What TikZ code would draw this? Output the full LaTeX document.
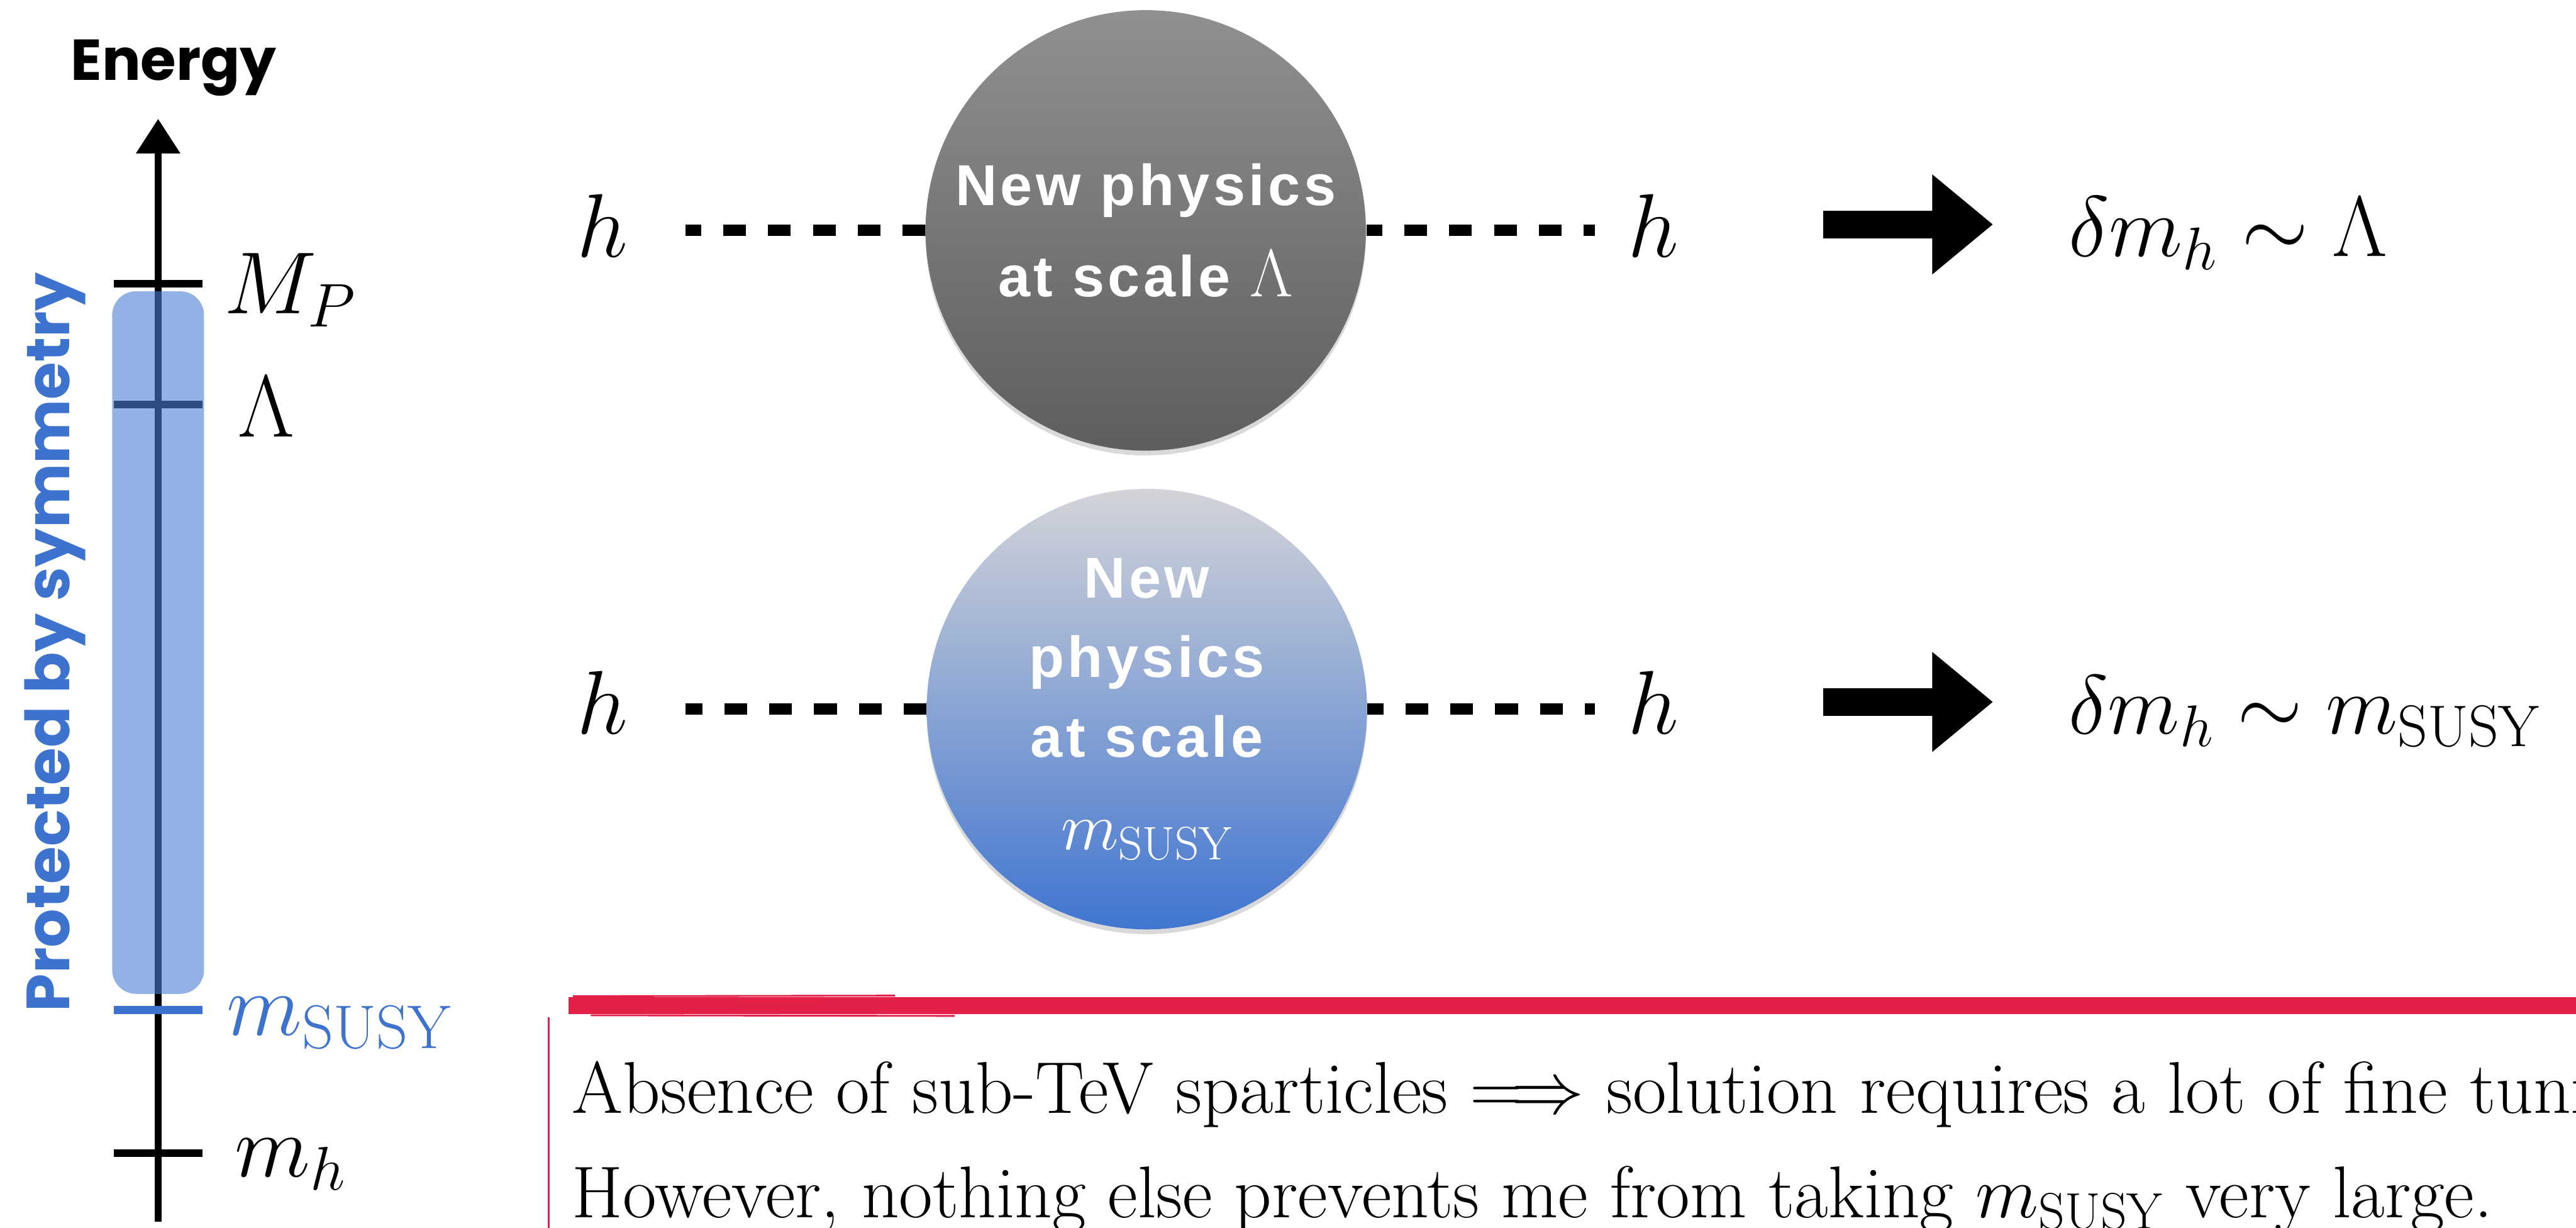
\RequirePackage{fix-cm}
\documentclass[tikz,border=0pt]{standalone}
\usepackage{fontspec}
\usetikzlibrary{arrows.meta,shadows}
\newfontfamily\blobfont[LetterSpace=6]{Liberation Sans}
\newfontfamily\chalkfont{Poppins}
\definecolor{susyblue}{RGB}{61,114,207}
\definecolor{boxblue}{RGB}{74,127,214}
\definecolor{brushred}{RGB}{226,32,72}
\tikzset{
  chalk/.style={line width=1.25mm},
  tickline/.style={line width=1.3mm},
  higgs/.style={line width=1.9mm, dash pattern=on 3.8mm off 3.7mm},
  blob/.style={circle, minimum size=73.8mm, inner sep=0pt, text=white, align=center,
    font=\blobfont\bfseries\fontsize{27.5}{43.5}\selectfont,
    drop shadow={shadow xshift=0mm, shadow yshift=-0.8mm, opacity=0.3}},
  lbl/.style={anchor=base west, inner sep=0pt, font=\fontsize{42}{42}\selectfont},
  fieldh/.style={anchor=base, inner sep=0pt, font=\fontsize{43}{43}\selectfont},
  bigarrow/.style={line width=4.6mm, -{Triangle[length=10.2mm, width=16.1mm]}},
}
\begin{document}
\begin{tikzpicture}[x=1mm, y=-1mm, color={black}]
\useasboundingbox (0,0) rectangle (431.7,205.7);
\clip (0,0) rectangle (431.7,205.7);
%%Energieachse
\node[anchor=base, inner sep=0pt, font=\chalkfont\bfseries\fontsize{27.5}{27.5}\selectfont] (energy) at (29.1,13.4) {Energy};
\coordinate (axbot) at (26.5,204.7);
\coordinate (axtop) at (26.5,19.9);
\draw[chalk, -{Triangle[length=5.8mm, width=7.1mm]}] (axbot) -- (axtop);
\coordinate (tMP) at (26.5,47.5);
\coordinate (tL) at (26.5,67.8);
\coordinate (tsusy) at (26.5,169.2);
\coordinate (tmh) at (26.5,193.2);
\foreach \t in {tMP,tL,tmh}
  \draw[tickline] ([xshift=-7.4mm]\t) -- ([xshift=7.4mm]\t);
\draw[tickline, susyblue] ([xshift=-7.4mm]tsusy) -- ([xshift=7.4mm]tsusy);
\fill[boxblue, fill opacity=0.6, rounded corners=4mm] (18.8,48.8) rectangle (34.2,166.5);
\node[rotate=90, anchor=base, inner sep=0pt, text=susyblue, font=\chalkfont\bfseries\fontsize{29}{29}\selectfont] (protect) at (11.6,107.6) {Protected by symmetry};
\node[lbl] (lMP) at (37.5,52.5) {$M_P$};
\node[lbl] (lL) at (39.8,73.2) {$\Lambda$};
\node[lbl, text=susyblue] (lsusy) at (37.9,173.4) {$m_{\mathrm{SUSY}}$};
\node[lbl] (lmh) at (39.3,197.1) {$m_h$};
%%Oberes Diagramm
\node[blob, top color={rgb,255:red,144;green,144;blue,144}, bottom color={rgb,255:red,94;green,94;blue,94}] (blobA) at (192,38.6)
  {New physics\\at scale {\fontsize{32}{32}\selectfont$\Lambda$}};
\node[fieldh] (hA) at (101,43.1) {$h$};
\node[fieldh] (hAr) at (277.1,43.1) {$h$};
\draw[higgs, shorten >=9.5mm] (blobA.west) -- (hA.east |- blobA.west);
\draw[higgs, dash phase=1.1mm, shorten >=5.5mm] (blobA.east) -- (hAr.west |- blobA.east);
\coordinate (arrAs) at (305.5,37.6);
\coordinate (arrAe) at (334,37.6);
\draw[bigarrow] (arrAs) -- (arrAe);
\node[anchor=base west, inner sep=0pt, font=\fontsize{41}{41}\selectfont] (resA) at (346.6,43.0) {$\delta m_h \sim \Lambda$};
%%Unteres Diagramm
\node[blob, font=\blobfont\bfseries\fontsize{27.5}{38}\selectfont, top color={rgb,255:red,211;green,212;blue,216}, bottom color={rgb,255:red,64;green,117;blue,208}] (blobB) at (192.2,118.8)
  {New\\physics\\at scale\\[6pt]{\fontsize{32}{32}\selectfont\mdseries$m_{\mathrm{SUSY}}$}};
\node[fieldh] (hB) at (101,122.9) {$h$};
\node[fieldh] (hBr) at (277.1,122.9) {$h$};
\draw[higgs, shorten >=9.5mm] (blobB.west) -- (hB.east |- blobB.west);
\draw[higgs, dash phase=1.1mm, shorten >=5.5mm] (blobB.east) -- (hBr.west |- blobB.east);
\coordinate (arrBs) at (305.5,117.6);
\coordinate (arrBe) at (334,117.6);
\draw[bigarrow] (arrBs) -- (arrBe);
\node[anchor=base west, inner sep=0pt, font=\fontsize{40}{40}\selectfont] (resB) at (346.6,122.9) {$\delta m_h \sim m_{\mathrm{SUSY}}$};
%%Kasten
\draw[brushred, line width=2.8mm] (95.3,168.5) -- (431.7,168.5);
\draw[brushred, line width=0.3mm] (96,166.9) -- (150,166.8);
\draw[brushred, line width=0.3mm] (99,170.1) -- (160,170.2);
\draw[brushred, line width=0.3mm] (92,170.4) -- (92,205.7);
\node[anchor=base west, inner sep=0pt, font=\fontsize{35}{35}\selectfont] (txtA) at (95.8,186.5)
  {Absence of sub-TeV sparticles $\Longrightarrow$ solution requires a lot of fine tuning.};
\node[anchor=base west, inner sep=0pt, font=\fontsize{35}{35}\selectfont] (txtB) at (95.8,204.0)
  {However, nothing else prevents me from taking $m_{\mathrm{SUSY}}$ very large.};
\end{tikzpicture}
\end{document}
